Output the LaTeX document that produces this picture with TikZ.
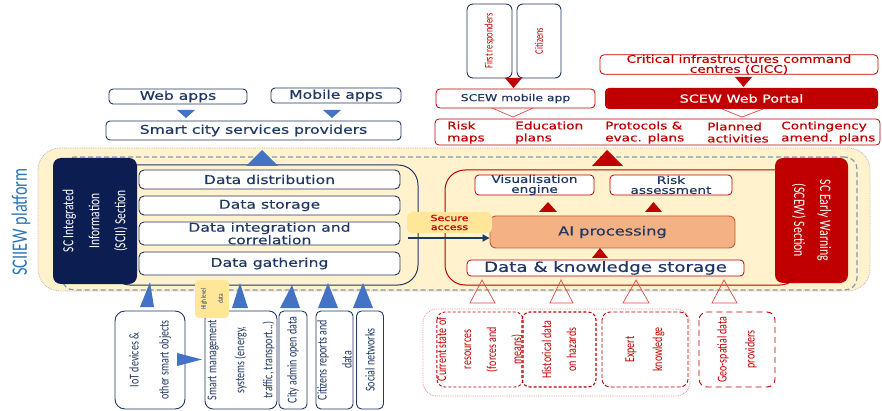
\documentclass[tikz,border=0pt]{standalone}
\usepackage{fontspec}
\newfontfamily\hf[FakeStretch=1.3,FakeBold=0.5]{DejaVu Sans}
\newfontfamily\vf[FakeStretch=0.74]{Carlito}
\usetikzlibrary{arrows.meta}
\definecolor{navy}{HTML}{203864}
\definecolor{sciifill}{HTML}{0B1D51}
\definecolor{bluetri}{HTML}{4472C4}
\definecolor{scred}{HTML}{C00000}
\definecolor{lightred}{HTML}{E04848}
\definecolor{salmon}{HTML}{F4B183}
\definecolor{salmonline}{HTML}{C8553A}
\definecolor{yellowbg}{HTML}{FFF2CC}
\definecolor{yellowlbl}{HTML}{FFE699}
\definecolor{platborder}{HTML}{B8B8B8}
\definecolor{dashgray}{HTML}{8496B0}
\definecolor{sciblue}{HTML}{2E75B6}
\begin{document}
\begin{tikzpicture}[x=1pt,y=-1pt,
  hbox/.style={draw=navy, line width=0.9pt, rounded corners=4pt, fill=white, inner sep=0pt, text=navy, align=center, font=\hf\fontsize{12}{11}\selectfont},
  rbox/.style={draw=scred, line width=0.8pt, rounded corners=4pt, fill=white, inner sep=0pt, align=center, font=\hf\fontsize{10.5}{10}\selectfont},
  vbox/.style={draw=navy, line width=0.9pt, rounded corners=6pt, fill=white, inner sep=0pt, rotate=90, align=center, text=navy},
  dbox/.style={draw=scred, line width=0.9pt, rounded corners=8pt, inner sep=0pt, rotate=90, align=center, text=scred},
  btri/.style={fill=bluetri},
  rtri/.style={fill=scred},
  otri/.style={draw=lightred, line width=0.7pt},
]
\useasboundingbox (0,0) rectangle (882,411);
\clip (0,0) rectangle (882,411);
\fill[white] (0,0) rectangle (882,411);

% ---------- platform ----------
\node[draw=platborder, densely dotted, line width=0.8pt, fill=yellowbg, rounded corners=22pt, minimum width=832, minimum height=143, inner sep=0pt] (platform) at (454,219.5) {};
\node[draw=dashgray, dash pattern=on 5pt off 3pt, line width=1.2pt, rounded corners=12pt, minimum width=795, minimum height=133, inner sep=0pt] (frame) at (459.5,223.5) {};
\node[rotate=90, text=sciblue, font=\vf\fontsize{22}{22}\selectfont, inner sep=0pt] (plat) at (21,222) {SCIIEW platform};

% ---------- SCII ----------
\node[draw=navy, line width=1pt, rounded corners=20pt, minimum width=308, minimum height=120, inner sep=0pt] (sciiin) at (264,225) {};
\node[fill=sciifill, rounded corners=8pt, rotate=90, minimum width=126, minimum height=84, inner sep=0pt, text=white, align=center, font=\vf\fontsize{15.5}{26}\selectfont] (scii) at (95,221) {SC Integrated\\Information\\(SCII) Section};
\node[hbox, rounded corners=5pt, minimum width=261, minimum height=19] (dist) at (269.5,179.5) {Data distribution};
\node[hbox, rounded corners=5pt, minimum width=261, minimum height=19] (stor) at (269.5,205.5) {Data storage};
\node[hbox, rounded corners=5pt, minimum width=261, minimum height=23] (integ) at (269.5,233.5) {Data integration and\\correlation};
\node[hbox, rounded corners=5pt, minimum width=261, minimum height=23] (gath) at (269.5,263.5) {Data gathering};

% ---------- SCEW ----------
\node[draw=scred, line width=1pt, rounded corners=20pt, minimum width=355, minimum height=115, inner sep=0pt] (scewin) at (622.5,227.5) {};
\node[rbox, text=navy, minimum width=119, minimum height=20] (vis) at (534.5,185) {Visualisation\\engine};
\node[rbox, text=navy, minimum width=122, minimum height=20] (risk) at (671,185) {Risk\\assessment};
\node[draw=salmonline, line width=0.9pt, fill=salmon, rounded corners=6pt, minimum width=245, minimum height=32, inner sep=0pt, text=navy, font=\hf\fontsize{12.5}{12}\selectfont] (ai) at (612.5,232) {AI processing};
\node[rbox, text=navy, minimum width=277, minimum height=16, font=\hf\fontsize{14}{14}\selectfont] (dks) at (605.5,268) {Data \& knowledge storage};
\node[fill=scred, rounded corners=8pt, rotate=-90, minimum width=125, minimum height=73, inner sep=0pt, text=white, align=center, font=\vf\fontsize{16}{26}\selectfont] (scew) at (811.5,220.5) {SC Early Warning\\(SCEW) Section};

% secure access
\node[fill=yellowlbl, rounded corners=5pt, minimum width=85, minimum height=21, inner sep=0pt, text=scred, align=center, font=\hf\fontsize{8.5}{9}\selectfont] (secure) at (449.5,222.5) {Secure\\access};
\coordinate (arrS) at (408,238);
\draw[navy, line width=2.2pt, -{Triangle[length=7pt,width=7pt]}] (arrS) -- (ai.west |- arrS);

% inner triangles
\fill[rtri] (539,212) -- (548,202) -- (557,212) -- cycle;
\fill[rtri] (645,212) -- (653.5,202) -- (662,212) -- cycle;
\fill[rtri] (592,258) -- (600,248) -- (608,258) -- cycle;
\fill[rtri] (592,166) -- (607,150) -- (623,166) -- cycle;
\fill[btri] (246,166) -- (262,150) -- (278,166) -- cycle;

% ---------- top left ----------
\node[hbox, minimum width=138, minimum height=15] (web) at (178,96.5) {Web apps};
\node[hbox, minimum width=130, minimum height=15] (mob) at (336,95.5) {Mobile apps};
\node[hbox, minimum width=295, minimum height=19] (scsp) at (253.5,130.5) {Smart city services providers};
\fill[btri] (177,110) -- (195,110) -- (186,118) -- cycle;
\fill[btri] (323,110) -- (341,110) -- (332,118) -- cycle;

% ---------- top right ----------
\node[vbox, draw=navy, text=scred, minimum width=74, minimum height=45, font=\vf\fontsize{11.5}{12}\selectfont] (first) at (489.5,41) {First responders};
\node[vbox, draw=navy, text=scred, minimum width=74, minimum height=44, font=\vf\fontsize{11.5}{12}\selectfont] (citz) at (539,41) {Citizens};
\fill[rtri] (505,78) -- (522,78) -- (513.5,88) -- cycle;
\node[rbox, text=navy, minimum width=159, minimum height=19, font=\hf\fontsize{9.5}{10}\selectfont] (mobapp) at (515.5,98.5) {SCEW mobile app};
\node[rbox, text=scred, minimum width=278, minimum height=19] (cicc) at (739,64.5) {Critical infrastructures command\\centres (CICC)};
\fill[rtri] (735,77) -- (752,77) -- (743.5,87) -- cycle;
\node[fill=scred, rounded corners=4pt, minimum width=273, minimum height=21, inner sep=0pt, text=white, font=\hf\fontsize{11}{11}\selectfont] (portal) at (741.5,98.5) {SCEW Web Portal};
\draw[otri] (492,108) -- (513,117) -- (533,108);
\draw[otri] (722,109) -- (742,117) -- (763,109);
\node[rbox, minimum width=445, minimum height=26] (plans) at (657.5,132) {};
\begin{scope}[every node/.style={anchor=west, inner sep=0pt, align=left, text=scred, font=\hf\fontsize{10.5}{12}\selectfont}]
\node (p1) at (447,132.5) {Risk\\maps};
\node (p2) at (515,132.5) {Education\\plans};
\node (p3) at (605,132.5) {Protocols \&\\evac. plans};
\node (p4) at (707,132.5) {Planned\\activities};
\node (p5) at (781,132.5) {Contingency\\amend. plans};
\end{scope}

% ---------- bottom left ----------
\fill[btri] (140,307) -- (150,282) -- (154,307) -- cycle;
\fill[btri] (232,308) -- (240,283) -- (248,308) -- cycle;
\fill[btri] (280,308) -- (292,285) -- (300,308) -- cycle;
\fill[btri] (318,308) -- (328,283) -- (338,308) -- cycle;
\fill[btri] (353,308) -- (363,283) -- (373,308) -- cycle;
\node[vbox, rounded corners=10pt, minimum width=98, minimum height=70, font=\vf\fontsize{13.5}{30}\selectfont] (iot) at (150,360) {IoT devices \&\\other smart objects};
\node[vbox, rounded corners=8pt, minimum width=98, minimum height=72, font=\vf\fontsize{13.5}{28}\selectfont] (smart) at (241,360) {Smart management\\systems (energy,\\traffic, transport...)};
\node[vbox, rounded corners=5pt, minimum width=98, minimum height=28, font=\vf\fontsize{13.5}{25}\selectfont] (city) at (293,360) {City admin open data};
\node[vbox, rounded corners=5pt, minimum width=98, minimum height=37, font=\vf\fontsize{13.5}{25}\selectfont] (citrep) at (334.5,360) {Citizens reports and\\data};
\node[vbox, rounded corners=5pt, minimum width=98, minimum height=27, font=\vf\fontsize{13.5}{25}\selectfont] (social) at (370,360) {Social networks};
\fill[btri] (177,353) -- (202,359.5) -- (177,366) -- cycle;
\node[fill=yellowlbl, rounded corners=4pt, rotate=90, minimum width=38, minimum height=34, inner sep=0pt, align=center, text=navy, font=\vf\fontsize{7}{17}\selectfont] (hld) at (212,299) {High level\\data};

% ---------- bottom right ----------
\draw[otri] (470,303) -- (482,280) -- (495,303) -- cycle;
\draw[otri] (550,303) -- (561,280) -- (573,303) -- cycle;
\draw[otri] (623,303) -- (636,280) -- (649,303) -- cycle;
\draw[otri] (712,303) -- (724,280) -- (737,303) -- cycle;
\node[draw=lightred!60, densely dotted, line width=0.8pt, rounded corners=14pt, minimum width=267, minimum height=87, inner sep=0pt] (srcgrp) at (556.5,352.5) {};
\node[dbox, dash pattern=on 3pt off 2pt, minimum width=75, minimum height=84, font=\vf\fontsize{13.5}{25}\selectfont] (curr) at (480,349.5) {Current state of\\resources\\(forces and\\means)};
\node[dbox, dash pattern=on 3pt off 2pt, line width=1.1pt, minimum width=75, minimum height=74, font=\vf\fontsize{13.5}{25}\selectfont] (hist) at (559,349.5) {Historical data\\on hazards};
\node[dbox, dash pattern=on 4pt off 2pt, minimum width=75, minimum height=86, font=\vf\fontsize{13.5}{28}\selectfont] (expert) at (645,349.5) {Expert\\knowledge};
\node[dbox, dash pattern=on 6pt off 4pt, minimum width=75, minimum height=76, font=\vf\fontsize{13.5}{28}\selectfont] (geo) at (737,349.5) {Geo-spatial data\\providers};
\end{tikzpicture}
\end{document}
